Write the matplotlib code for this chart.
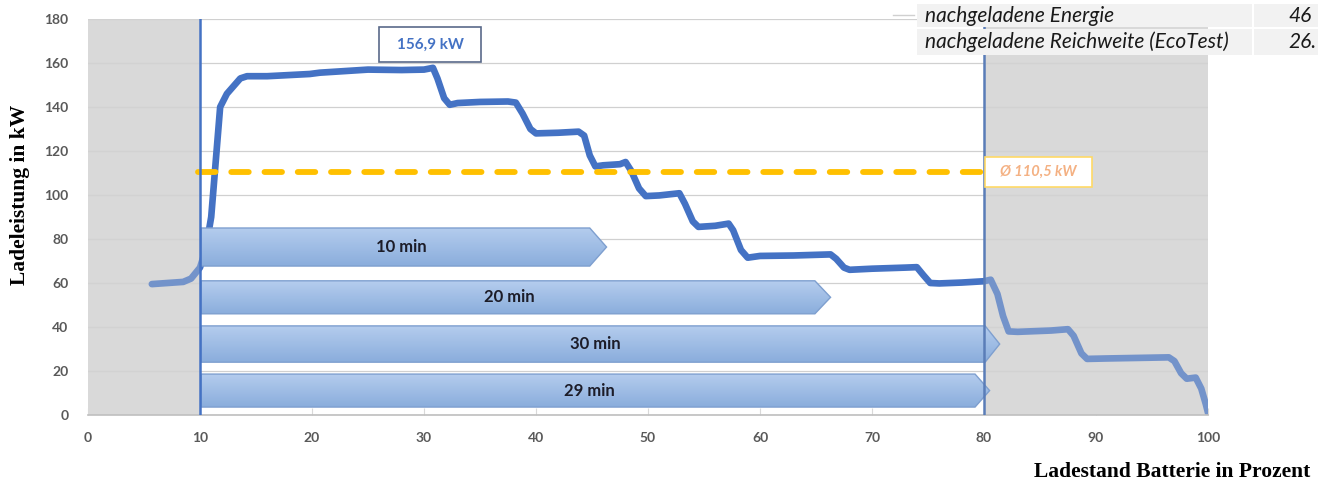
import matplotlib
matplotlib.use("Agg")
import matplotlib.pyplot as plt
import numpy as np
from matplotlib.patches import Polygon, Rectangle
from matplotlib.lines import Line2D
from matplotlib.colors import LinearSegmentedColormap

# charging curve: state of charge (%) -> power (kW)
soc = [5.7, 8.5, 9.2, 10.0, 10.5, 11.0, 11.4, 11.8, 12.4, 13.6, 14.2, 16.0, 19.8, 20.7,
       25.0, 28.0, 30.0, 30.8, 31.2, 31.8, 32.3, 33.0, 35.0, 37.5, 38.2, 38.8, 39.5,
       40.0, 42.0, 43.8, 44.3, 44.8, 45.3, 46.0, 47.5, 48.0, 48.5, 49.2, 49.8, 51.0,
       52.8, 53.3, 54.0, 54.5, 56.0, 57.2, 57.6, 58.3, 58.9, 60.0, 63.0, 66.3, 66.8,
       67.5, 68.0, 70.0, 73.0, 74.0, 74.6, 75.2, 76.0, 78.0, 80.0, 80.6, 81.2, 81.7,
       82.2, 83.0, 86.0, 87.5, 88.0, 88.7, 89.2, 91.0, 96.5, 97.0, 97.6, 98.1, 98.9,
       99.4, 99.8, 100.0]
power = [59.5, 60.5, 62.0, 67.0, 75.0, 90.0, 115.0, 140.0, 146.0, 153.0, 154.0, 154.0,
         155.0, 155.6, 157.0, 156.8, 157.0, 157.8, 153.0, 144.0, 141.0, 141.8, 142.3,
         142.5, 142.0, 137.0, 130.0, 128.0, 128.3, 128.8, 127.0, 118.0, 113.0, 113.5,
         114.0, 115.0, 111.0, 103.0, 99.5, 99.8, 100.8, 96.0, 88.0, 85.5, 86.0, 87.0,
         84.0, 75.0, 71.5, 72.3, 72.5, 73.0, 71.0, 67.0, 66.0, 66.5, 67.0, 67.2, 63.5,
         60.0, 59.8, 60.2, 60.8, 61.5, 55.0, 45.0, 38.0, 37.8, 38.4, 39.0, 36.0, 28.0,
         25.5, 25.7, 26.2, 24.5, 19.0, 16.5, 17.0, 12.0, 5.0, 1.0]

peak_label = "156,9 kW"
avg_power = 110.5
avg_label = "Ø 110,5 kW"
window = (10, 80)

# time arrows: label, y bottom, y top, body end, tip
arrow_labels = ["10 min", "20 min", "30 min", "29 min"]
arrow_ybot = [67.7, 46.0, 24.0, 3.6]
arrow_ytop = [85.0, 61.0, 40.5, 18.6]
arrow_body_end = [44.8, 64.9, 80.1, 79.2]
arrow_tip = [46.3, 66.3, 81.4, 80.5]
arrow_text_x = [28.0, 37.6, 45.3, 44.8]

table_rows = ["nachgeladene Energie", "nachgeladene Reichweite (EcoTest)"]
table_vals = ["46", "26."]

blue = "#4472C4"
gray_bg = "#d9d9d9"
tick_col = "#595959"

fig = plt.figure(figsize=(13.18, 4.84), dpi=100)
ax = fig.add_axes([88 / 1318, 69 / 484, 1120 / 1318, 396 / 484])
ax.set_xlim(0, 100)
ax.set_ylim(0, 180)

# grey shaded ranges outside the 10-80 % window
for a, b in [(0, window[0]), (window[1], 100)]:
    ax.axvspan(a, b, color=gray_bg, zorder=0, lw=0)

ax.set_yticks(range(0, 181, 20))
ax.set_xticks(range(0, 101, 10))
ax.grid(axis="y", color="#d0d0d0", lw=0.9, zorder=0.5)
ax.grid(axis="x", visible=False)

ax.plot(soc, power, color=blue, lw=4.8, solid_capstyle="round",
        solid_joinstyle="round", zorder=2)

# grey veil over the curve outside the window
for a, b in [(0, window[0]), (window[1], 100)]:
    ax.axvspan(a, b, color=gray_bg, alpha=0.32, zorder=2.5, lw=0)

# average dashed line
ax.plot([window[0] - 0.2, window[1]], [avg_power, avg_power], color="#FFC000",
        lw=4.2, dashes=(3.0, 2.7), dash_capstyle="round", zorder=3)

# block arrows with vertical gradient
grad = np.linspace(0, 1, 256).reshape(-1, 1)
cmap = LinearSegmentedColormap.from_list("arr", ["#8aaddc", "#b5cdee"])
for lab, yb, yt, be, tp, tx in zip(arrow_labels, arrow_ybot, arrow_ytop,
                                   arrow_body_end, arrow_tip, arrow_text_x):
    x0 = window[0] + 0.1
    ym = (yb + yt) / 2
    poly = Polygon([(x0, yb), (be, yb), (tp, ym), (be, yt), (x0, yt)],
                   closed=True, facecolor="none", edgecolor="#7e9fcf", lw=1.0,
                   zorder=4.2)
    ax.add_patch(poly)
    im = ax.imshow(grad, extent=(x0, tp, yb, yt), origin="lower", cmap=cmap,
                   aspect="auto", zorder=4, interpolation="bilinear")
    im.set_clip_path(poly)
    ax.text(tx, ym, lab, ha="center", va="center", fontsize=12,
            fontweight="bold", family="Lato", color="#1c1c28", zorder=5)

ax.set_xlim(0, 100)
ax.set_ylim(0, 180)

# window boundaries
ax.axvline(window[0], color=blue, lw=1.8, zorder=6)
ax.axvline(window[1], color="#5a7db8", lw=1.8, zorder=6)

# peak label box
ax.add_patch(Rectangle((26.0, 160.5), 9.1, 15.9, facecolor="white",
                       edgecolor="#5a6a8a", lw=1.2, zorder=6))
ax.text(30.55, 168.4, peak_label, ha="center", va="center", fontsize=11,
        fontweight="bold", family="Lato", color=blue, zorder=7)

# average label box
ax.add_patch(Rectangle((80.1, 103.6), 9.5, 13.7, facecolor="white",
                       edgecolor="#FFD966", lw=1.2, zorder=6))
ax.text(84.85, 110.4, avg_label, ha="center", va="center", fontsize=10.5,
        fontweight="bold", style="italic", family="Lato", color="#F4B183",
        zorder=7)

for s in ["top", "left", "right"]:
    ax.spines[s].set_visible(False)
ax.spines["bottom"].set_color("#bfbfbf")
ax.spines["bottom"].set_linewidth(1.2)
ax.tick_params(axis="x", direction="in", length=5, color="#d9d9d9",
               labelsize=10, labelcolor=tick_col, pad=12)
ax.tick_params(axis="y", length=0, labelsize=10, labelcolor=tick_col, pad=14)
for t in ax.get_xticklabels() + ax.get_yticklabels():
    t.set_fontweight("bold")
    t.set_family("Lato")

fig.text(20 / 1318, 1 - 195 / 484, "Ladeleistung in kW", rotation=90,
         ha="center", va="center", family="Liberation Serif", fontsize=15.5,
         fontweight="bold", color="black")
fig.text(1310 / 1318, 1 - 472 / 484, "Ladestand Batterie in Prozent",
         ha="right", va="center", family="Liberation Serif", fontsize=15.5,
         fontweight="bold", color="black")

# table snippet at top right
row_y = [(4, 27), (29, 55)]
for (y0, y1), name, val in zip(row_y, table_rows, table_vals):
    fig.patches.append(Rectangle((917 / 1318, 1 - y1 / 484), 335 / 1318,
                                 (y1 - y0) / 484, transform=fig.transFigure,
                                 facecolor="#f2f2f2", edgecolor="none"))
    fig.patches.append(Rectangle((1254 / 1318, 1 - y1 / 484), 64 / 1318,
                                 (y1 - y0) / 484, transform=fig.transFigure,
                                 facecolor="#f2f2f2", edgecolor="none"))
    ym = 1 - (y0 + y1) / 2 / 484
    fig.text(925 / 1318, ym, name, ha="left", va="center", style="italic",
             family="Lato", fontsize=15, color="#1a1a1a")
    fig.text(1288 / 1318, ym, val, ha="left", va="center", style="italic",
             family="Lato", fontsize=15, color="#1a1a1a")
fig.lines.append(Line2D([893 / 1318, 914 / 1318], [1 - 15 / 484, 1 - 15 / 484],
                        transform=fig.transFigure, color="#d0d0d0", lw=1))

fig.savefig("out.png", dpi=100)
